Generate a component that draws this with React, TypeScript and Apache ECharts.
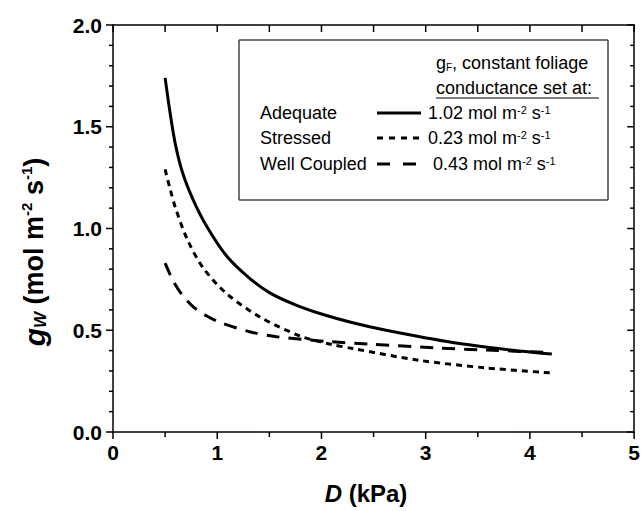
import React, { useEffect, useRef } from "react";
import * as echarts from "echarts";

const xMajor = [0, 1, 2, 3, 4, 5];
const xMinor = [0.5, 1.5, 2.5, 3.5, 4.5];
const yMajor = [0, 0.5, 1.0, 1.5, 2.0];
const yMinor = [0.1, 0.2, 0.3, 0.4, 0.6, 0.7, 0.8, 0.9, 1.1, 1.2, 1.3, 1.4, 1.6, 1.7, 1.8, 1.9];

const adequate: [number, number][] = [
  [0.5, 1.74], [0.55, 1.56], [0.6, 1.41], [0.67, 1.27], [0.77, 1.14], [0.9, 1.01],
  [1.09, 0.865], [1.3, 0.76], [1.5, 0.685], [1.75, 0.625], [2.0, 0.58], [2.3, 0.537],
  [2.62, 0.5], [3.26, 0.44], [3.9, 0.398], [4.21, 0.383],
];
const stressed: [number, number][] = [
  [0.5, 1.29], [0.55, 1.19], [0.6, 1.1], [0.71, 0.95], [0.86, 0.81], [1.09, 0.68],
  [1.41, 0.565], [1.79, 0.472], [1.95, 0.448], [2.1, 0.43], [2.3, 0.41], [2.94, 0.352],
  [3.58, 0.315], [4.21, 0.29],
];
const wellCoupled: [number, number][] = [
  [0.5, 0.83], [0.58, 0.74], [0.67, 0.67], [0.77, 0.615], [0.9, 0.57], [1.02, 0.54],
  [1.31, 0.493], [1.57, 0.468], [1.89, 0.452], [2.08, 0.444], [2.46, 0.432],
  [3.1, 0.413], [3.58, 0.403], [4.21, 0.39],
];

const seriesNames = ["Adequate", "Stressed", "Well Coupled"];
const conductances = ["1.02", "0.23", "0.43"];

const FONT = "'Liberation Sans', Arial, sans-serif";

export default function App() {
  const ref = useRef<HTMLDivElement>(null);
  useEffect(() => {
    if (!ref.current) return;
    document.body.style.margin = "0";
    const chart = echarts.init(ref.current, undefined, { renderer: "svg" });
    const xMin = xMajor[0];
    const xMax = xMajor[xMajor.length - 1];
    const yMin = yMajor[0];
    const yMax = yMajor[yMajor.length - 1];
    const mkLine = (onZero: boolean) => ({ show: true, onZero, lineStyle: { color: "#000", width: 1.5 } });
    const lineStyles: any[] = ["solid", [6, 5], [13, 9]];
    const legendDash: any[] = [null, [6, 6], [13, 13]];
    const datasets = [adequate, stressed, wellCoupled];

    chart.setOption({
      animation: false,
      backgroundColor: "#fff",
      grid: { left: 113, right: 8, top: 25, bottom: 79 },
      xAxis: [
        {
          type: "value",
          min: xMin,
          max: xMax,
          interval: 1,
          splitLine: { show: false },
          axisLine: mkLine(true),
          axisTick: { show: false },
          axisLabel: {
            color: "#000",
            fontSize: 21,
            fontWeight: "bold",
            fontFamily: FONT,
            margin: 10,
          },
        },
        {
          type: "value",
          min: xMin,
          max: xMax,
          interval: 1,
          position: "top",
          splitLine: { show: false },
          axisLine: mkLine(false),
          axisTick: { show: false },
          axisLabel: { show: false },
        },
      ],
      yAxis: [
        {
          type: "value",
          min: yMin,
          max: yMax,
          interval: 0.5,
          splitLine: { show: false },
          axisLine: mkLine(true),
          axisTick: { show: false },
          axisLabel: {
            color: "#000",
            fontSize: 21,
            fontWeight: "bold",
            fontFamily: FONT,
            margin: 11,
            formatter: (v: number) => v.toFixed(1),
          },
        },
        {
          type: "value",
          min: yMin,
          max: yMax,
          interval: 0.5,
          position: "right",
          splitLine: { show: false },
          axisLine: mkLine(false),
          axisTick: { show: false },
          axisLabel: { show: false },
        },
      ],
      series: datasets.map((d, i) => ({
        name: seriesNames[i],
        type: "line",
        data: d,
        showSymbol: false,
        smooth: 0.3,
        lineStyle: { color: "#000", width: 3, type: lineStyles[i] },
      })),
    });

    // tick marks, positioned through the axes' own scale
    const px = (x: number, y: number) =>
      chart.convertToPixel({ xAxisIndex: 0, yAxisIndex: 0 }, [x, y]) as number[];
    const graphic: any[] = [];
    const seg = (x1: number, y1: number, x2: number, y2: number, w = 1.5, stroke = "#000") =>
      graphic.push({
        type: "line",
        shape: { x1, y1, x2, y2 },
        style: { stroke, lineWidth: w },
      });
    xMajor.forEach((v) => {
      const b = px(v, yMin);
      const t = px(v, yMax);
      seg(b[0], b[1], b[0], b[1] + 7);
      seg(t[0], t[1], t[0], t[1] + 7);
    });
    xMinor.forEach((v) => {
      const b = px(v, yMin);
      const t = px(v, yMax);
      seg(b[0], b[1], b[0], b[1] + 5);
      seg(t[0], t[1], t[0], t[1] + 7);
    });
    yMajor.forEach((v) => {
      const l = px(xMin, v);
      const r = px(xMax, v);
      seg(l[0] - 7, l[1], l[0], l[1]);
      seg(r[0] - 7, r[1], r[0], r[1]);
    });
    yMinor.forEach((v) => {
      const l = px(xMin, v);
      const r = px(xMax, v);
      seg(l[0] - 4, l[1], l[0], l[1]);
      seg(r[0] - 4, r[1], r[0], r[1]);
    });

    // legend box drawn as four sides
    const bx = 239, by = 40, bw = 369, bh = 160;
    seg(bx, by, bx + bw, by, 1.5, "#444");
    seg(bx + bw, by, bx + bw, by + bh, 1.5, "#444");
    seg(bx + bw, by + bh, bx, by + bh, 1.5, "#444");
    seg(bx, by + bh, bx, by, 1.5, "#444");

    const legendRows = [113, 138, 164];
    graphic.push(
      {
        type: "text",
        x: 436,
        y: 63,
        style: {
          text: "g{sub|F}, constant foliage",
          fontSize: 18,
          fontFamily: FONT,
          fill: "#000",
          verticalAlign: "middle",
          rich: { sub: { fontSize: 10, verticalAlign: "bottom", fontFamily: FONT, fill: "#000" } },
        },
      },
      {
        type: "text",
        x: 436,
        y: 88,
        style: {
          text: "conductance set at:",
          fontSize: 18,
          fontFamily: FONT,
          fill: "#000",
          verticalAlign: "middle",
        },
      }
    );
    seg(436, 98, 599, 98, 1.2);
    seriesNames.forEach((name, i) => {
      const y = legendRows[i];
      graphic.push({
        type: "text",
        x: 260,
        y,
        style: { text: name, fontSize: 18, fontFamily: FONT, fill: "#000", verticalAlign: "middle" },
      });
      graphic.push({
        type: "line",
        shape: { x1: 377, y1: y, x2: 421, y2: y },
        style: { stroke: "#000", lineWidth: 3, lineDash: legendDash[i] },
      });
      graphic.push({
        type: "text",
        x: i === 2 ? 433 : 428,
        y,
        style: {
          text: conductances[i] + " mol m{sup|-2} s{sup|-1}",
          fontSize: 18,
          fontFamily: FONT,
          fill: "#000",
          verticalAlign: "middle",
          rich: { sup: { fontSize: 11, verticalAlign: "top", fontFamily: FONT, fill: "#000" } },
        },
      });
    });
    graphic.push({
      type: "text",
      x: 366,
      y: 493,
      style: {
        text: "{i|D} (kPa)",
        fontSize: 24,
        fontWeight: "bold",
        fontFamily: FONT,
        fill: "#000",
        align: "center",
        verticalAlign: "middle",
        rich: {
          i: { fontSize: 24, fontWeight: "bold", fontStyle: "italic", fontFamily: FONT, fill: "#000" },
        },
      },
    });
    graphic.push({
      type: "text",
      x: 34,
      y: 252,
      rotation: Math.PI / 2,
      style: {
        text: "{g|g}{sub|W} (mol m{sup|-2} s{sup|-1})",
        fontSize: 27,
        fontWeight: "bold",
        fontFamily: FONT,
        fill: "#000",
        align: "center",
        verticalAlign: "middle",
        rich: {
          g: { fontSize: 30, fontWeight: "bold", fontStyle: "italic", fontFamily: FONT, fill: "#000" },
          sub: { fontSize: 17, fontWeight: "bold", fontStyle: "italic", verticalAlign: "bottom", fontFamily: FONT, fill: "#000" },
          sup: { fontSize: 15, fontWeight: "bold", verticalAlign: "top", fontFamily: FONT, fill: "#000" },
        },
      },
    });

    chart.setOption({ graphic });
    return () => chart.dispose();
  }, []);
  return <div ref={ref} style={{ width: 643, height: 511 }} />;
}
